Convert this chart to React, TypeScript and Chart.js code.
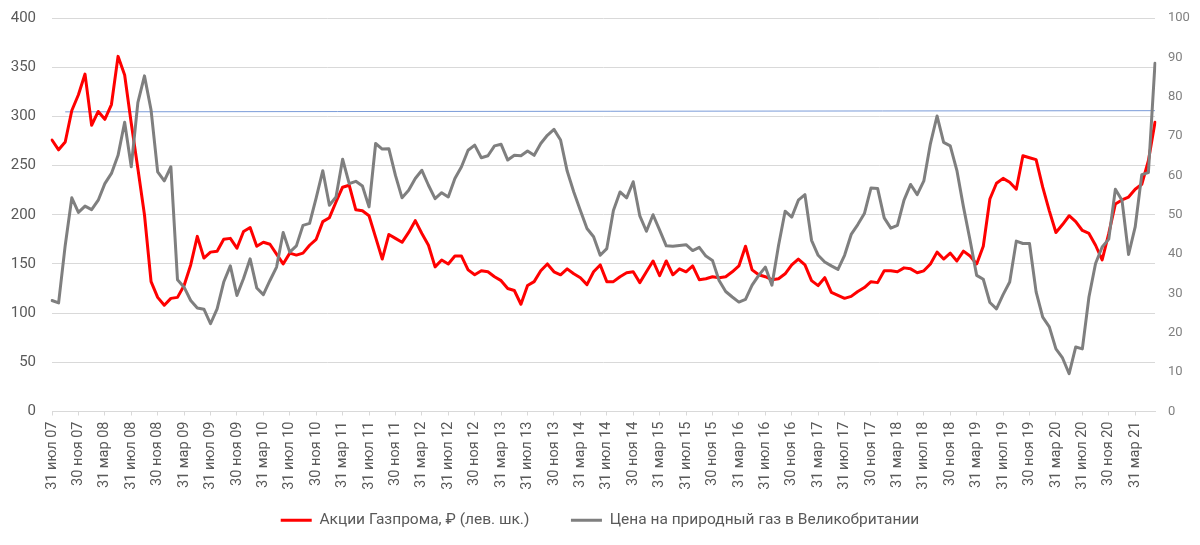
import React, { useEffect, useRef } from 'react';
import { Chart, registerables } from 'chart.js';

Chart.register(...registerables);

// Monthly month-end observations, July 2007 – June 2021
const MONTH_NAMES = ['янв', 'фев', 'мар', 'апр', 'май', 'июн', 'июл', 'авг', 'сен', 'окт', 'ноя', 'дек'];
const START_YEAR = 2007;
const START_MONTH = 6; // July (0-based)

// Gazprom share price, RUB (left axis)
const gazpromShares = [
  276, 266, 274, 306, 322, 343, 291, 305, 297, 312, 361, 342,
  293, 247, 200, 132, 116, 108, 115, 116, 128, 149, 178, 156,
  162, 163, 175, 176, 166, 183, 187, 168, 172, 170, 160, 150,
  161, 159, 161, 169, 175, 193, 197, 213, 228, 230, 205, 204,
  199, 177, 155, 180, 176, 172, 182, 194, 181, 169, 147, 154,
  150, 158, 158, 144, 139, 143, 142, 137, 133, 125, 123, 109,
  128, 132, 143, 150, 142, 139, 145, 140, 136, 129, 142, 149,
  132, 132, 137, 141, 142, 131, 142, 153, 138, 153, 139, 145,
  142, 148, 134, 135, 137, 136, 137, 142, 148, 168, 144, 139,
  137, 134, 135, 140, 149, 155, 149, 133, 128, 136, 121, 118,
  115, 117, 122, 126, 132, 131, 143, 143, 142, 146, 145, 141,
  143, 150, 162, 155, 161, 153, 163, 158, 150, 168, 216, 232,
  237, 233, 226, 260, 258, 256, 228, 204, 182, 190, 199, 193,
  184, 181, 169, 154, 181, 211, 215, 218, 226, 231, 255, 294,
];

// UK natural gas price (right axis)
const ukGasPrice = [
  28.2, 27.6, 42.2, 54.3, 50.6, 52.2, 51.3, 53.7, 57.9, 60.5, 65.1, 73.5,
  62.2, 78.5, 85.3, 76.6, 60.9, 58.6, 62.2, 33.5, 31.6, 28.2, 26.3, 26.0,
  22.3, 26.1, 32.9, 37.0, 29.5, 33.8, 38.8, 31.4, 29.7, 33.3, 36.7, 45.5,
  40.5, 42.1, 47.3, 47.8, 54.3, 61.2, 52.4, 54.5, 64.1, 57.9, 58.5, 57.3,
  52.0, 68.1, 66.7, 66.8, 60.0, 54.3, 56.2, 59.2, 61.3, 57.5, 54.1, 55.6,
  54.5, 59.2, 62.2, 66.4, 67.7, 64.5, 65.0, 67.5, 67.9, 63.9, 65.1, 65.0,
  66.2, 65.1, 68.1, 70.2, 71.7, 69.0, 61.1, 55.8, 51.1, 46.5, 44.4, 39.7,
  41.4, 51.1, 55.8, 54.3, 58.4, 49.7, 45.8, 50.0, 46.1, 42.1, 42.0, 42.2,
  42.4, 40.9, 41.7, 39.5, 38.4, 33.3, 30.5, 29.1, 27.8, 28.5, 32.1, 34.6,
  36.7, 32.1, 42.2, 50.9, 49.4, 53.7, 55.1, 43.5, 39.7, 38.0, 37.0, 36.1,
  39.7, 45.0, 47.5, 50.3, 56.8, 56.7, 49.2, 46.6, 47.3, 53.7, 57.7, 55.1,
  58.6, 68.1, 75.1, 68.4, 67.5, 61.3, 52.0, 43.5, 34.6, 33.6, 27.7, 26.1,
  29.7, 32.9, 43.3, 42.7, 42.7, 30.4, 24.0, 21.5, 15.9, 13.6, 9.6, 16.4,
  15.9, 29.1, 37.6, 41.8, 43.8, 56.5, 53.7, 39.9, 46.9, 60.2, 60.7, 88.5,
];

// Thin blue reference line (left axis): first and last values
const refLineStartIndex = 2;
const refLineStartValue = 304.6;
const refLineEndValue = 305.8;

const categories = gazpromShares.map((_, i) => {
  const m = (START_MONTH + i) % 12;
  const y = START_YEAR + Math.floor((START_MONTH + i) / 12);
  const lastDay = new Date(y, m + 1, 0).getDate();
  return `${lastDay} ${MONTH_NAMES[m]} ${String(y % 100).padStart(2, '0')}`;
});

const refLine = gazpromShares.map((_, i) =>
  i === refLineStartIndex ? refLineStartValue : i === gazpromShares.length - 1 ? refLineEndValue : null
);

const LABEL_EVERY = 4;
const FONT = 'Roboto, "Noto Sans", "DejaVu Sans", sans-serif';

export default function App() {
  const canvasRef = useRef<HTMLCanvasElement>(null);

  useEffect(() => {
    document.body.style.margin = '0';
    const canvas = canvasRef.current;
    if (!canvas) return;
    const chart = new Chart(canvas, {
      type: 'line',
      data: {
        labels: categories,
        datasets: [
          {
            label: 'Акции Газпрома, ₽ (лев. шк.)',
            data: gazpromShares,
            borderColor: '#ff0000',
            backgroundColor: '#ff0000',
            borderWidth: 3,
            pointRadius: 0,
            tension: 0,
            borderJoinStyle: 'round',
            borderCapStyle: 'round',
            yAxisID: 'y',
            order: 1,
          },
          {
            label: 'Цена на природный газ в Великобритании',
            data: ukGasPrice,
            borderColor: '#7f7f7f',
            backgroundColor: '#7f7f7f',
            borderWidth: 3,
            pointRadius: 0,
            tension: 0,
            borderJoinStyle: 'round',
            borderCapStyle: 'round',
            yAxisID: 'y1',
            order: 0,
          },
          {
            label: 'ref',
            data: refLine,
            borderColor: '#7a9bd8',
            backgroundColor: '#7a9bd8',
            borderWidth: 1,
            pointRadius: 0,
            spanGaps: true,
            yAxisID: 'y',
            order: 2,
          },
        ],
      },
      options: {
        animation: false,
        responsive: false,
        layout: { padding: { left: 0, right: 0, top: 18, bottom: 7 } },
        plugins: {
          tooltip: { enabled: false },
          legend: {
            position: 'bottom',
            labels: {
              usePointStyle: true,
              pointStyle: 'line',
              pointStyleWidth: 31,
              padding: 10,
              color: '#595959',
              font: { family: FONT, size: 15.5 },
              generateLabels: (ch: any) => {
                const items = (Chart as any).defaults.plugins.legend.labels.generateLabels(ch);
                return items.map((it: any) =>
                  it.datasetIndex === 0 ? { ...it, text: it.text + '\u2003\u2003' } : it
                );
              },
              filter: (item: any) => item.datasetIndex !== 2,
              sort: (a: any, b: any) => a.datasetIndex - b.datasetIndex,
            },
          },
        },
        scales: {
          x: {
            type: 'category',
            offset: false,
            grid: {
              drawOnChartArea: false,
              drawTicks: true,
              tickLength: 4,
              color: (ctx: any) => (ctx.index % LABEL_EVERY === 0 ? '#d9d9d9' : 'rgba(0,0,0,0)'),
            },
            border: { color: '#d9d9d9', width: 1 },
            ticks: {
              autoSkip: false,
              maxRotation: 90,
              minRotation: 90,
              padding: 6,
              color: '#595959',
              font: { family: FONT, size: 14.5 },
              callback: (_v: any, index: number) => (index % LABEL_EVERY === 0 ? categories[index] : ''),
            },
            afterFit: (scale: any) => {
              scale.height = 91;
            },
          },
          y: {
            position: 'left',
            min: 0,
            max: 400,
            ticks: { stepSize: 50, padding: 16, color: '#595959', font: { family: FONT, size: 15 } },
            grid: { color: '#d9d9d9', drawTicks: false },
            border: { display: false },
            afterFit: (scale: any) => {
              scale.width = 52;
              scale.paddingTop = 0;
              scale.paddingBottom = 0;
            },
          },
          y1: {
            position: 'right',
            min: 0,
            max: 100,
            ticks: { stepSize: 10, padding: 13, color: '#808080', font: { family: FONT, size: 13 } },
            grid: { display: false, drawTicks: false },
            border: { display: false },
            afterFit: (scale: any) => {
              scale.width = 45;
              scale.paddingTop = 0;
              scale.paddingBottom = 0;
            },
          },
        },
      },
    } as any);
    return () => chart.destroy();
  }, []);

  return (
    <div style={{ width: 1200, height: 545, background: '#ffffff' }}>
      <canvas ref={canvasRef} width={1200} height={545} style={{ display: 'block' }} />
    </div>
  );
}
